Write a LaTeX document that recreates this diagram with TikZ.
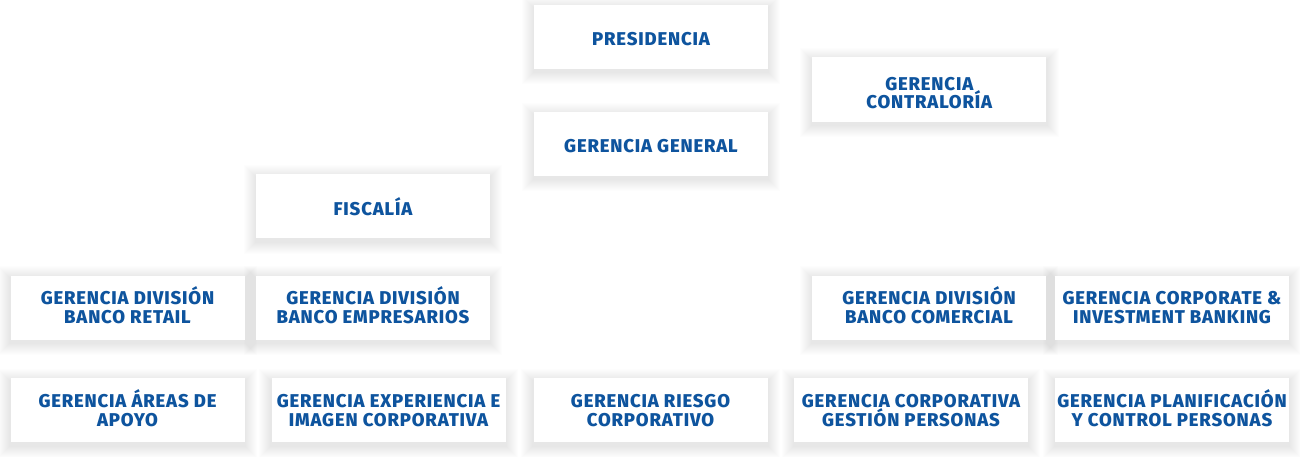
\documentclass[tikz,border=0pt]{standalone}
\usepackage{fontspec}
\setmainfont{Fira Sans}[BoldFont={* ExtraBold}]
\definecolor{orgblue}{RGB}{14,84,158}
\pgfdeclarelayer{background}
\pgfsetlayers{background,main}
\tikzset{
  orgbox/.style={rectangle, fill=white, minimum width=234pt, minimum height=64pt,
    inner sep=0pt, align=center, text=orgblue,
    text height=31.45pt, text depth=0pt,
    font=\fontsize{18.5}{18.7}\selectfont\bfseries\addfontfeatures{LetterSpace=4.5}},
  oneline/.style={text height=17.95pt, text depth=0pt},
  shadowlayer/.style={fill=black, fill opacity=0.0065, draw=none},
}
\newcommand\boxshadow[1]{%
  \begin{pgfonlayer}{background}
  \foreach \r in {1,...,12}{
    \fill[shadowlayer] ([shift={(-\r,-\r+3)}]#1.north west) rectangle ([shift={(\r,\r+3)}]#1.south east);
  }
  \end{pgfonlayer}}
\begin{document}
\begin{tikzpicture}[x=1pt,y=-1pt]
\useasboundingbox (0,0) rectangle (1300,456);
\begin{pgfonlayer}{background}
\fill[white] (0,0) rectangle (1300,456);
\end{pgfonlayer}
\node[orgbox, oneline] (pres) at (651,37) {PRESIDENCIA};
\node[orgbox, oneline] (gg) at (651,143.7) {GERENCIA GENERAL};
\node[orgbox, minimum height=64.4pt, text height=38.85pt] (contra) at (929.3,89.5) {GERENCIA\\CONTRALORÍA};
\node[orgbox, oneline] (fisc) at (373,206.3) {FISCALÍA};
\node[orgbox] (retail) at (127.5,307.5) {GERENCIA DIVISIÓN\\BANCO RETAIL};
\node[orgbox] (empr) at (373,307.5) {GERENCIA DIVISIÓN\\BANCO EMPRESARIOS};
\node[orgbox] (comer) at (929,307.5) {GERENCIA DIVISIÓN\\BANCO COMERCIAL};
\node[orgbox] (cib) at (1172,307.5) {GERENCIA CORPORATE \&\\INVESTMENT BANKING};
\foreach \n in {pres,gg,contra,fisc,retail,empr,comer,cib}{\boxshadow{\n}}
\begin{scope}
\clip (0,0) rectangle (1300,443);
\node[orgbox] (apoyo) at (127.5,410.3) {GERENCIA ÁREAS DE\\APOYO};
\node[orgbox] (exper) at (388.5,410.3) {GERENCIA EXPERIENCIA E\\IMAGEN CORPORATIVA};
\node[orgbox] (riesgo) at (650.5,410.3) {GERENCIA RIESGO\\CORPORATIVO};
\node[orgbox] (gestion) at (911,410.3) {GERENCIA CORPORATIVA\\GESTIÓN PERSONAS};
\node[orgbox] (planif) at (1172,410.3) {GERENCIA PLANIFICACIÓN\\Y CONTROL PERSONAS};
\foreach \n in {apoyo,exper,riesgo,gestion,planif}{\boxshadow{\n}}
\end{scope}
\end{tikzpicture}
\end{document}
